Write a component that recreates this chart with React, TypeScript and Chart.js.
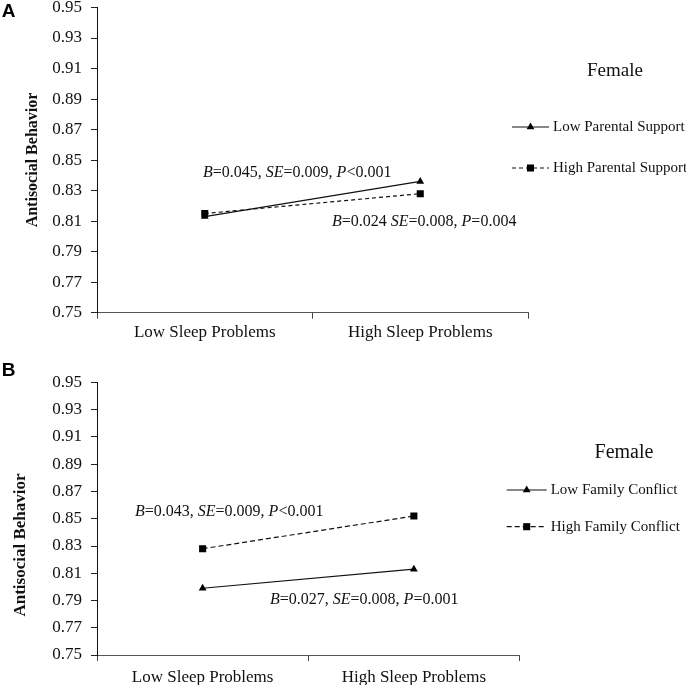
import React, { useEffect, useRef } from 'react';
import { Chart, registerables } from 'chart.js';

Chart.register(...registerables);

// ---------- data ----------
const categories = ['Low Sleep Problems', 'High Sleep Problems'];
const yTickValues = [0.75, 0.77, 0.79, 0.81, 0.83, 0.85, 0.87, 0.89, 0.91, 0.93, 0.95];

const lowParentalSupport = [0.813, 0.836];
const highParentalSupport = [0.815, 0.828];
const lowFamilyConflict = [0.799, 0.813];
const highFamilyConflict = [0.828, 0.852];

const seriesLabelsA = ['Low Parental Support', 'High Parental Support'];
const seriesLabelsB = ['Low Family Conflict', 'High Family Conflict'];

const annotationTextsA = ['B=0.045, SE=0.009, P<0.001', 'B=0.024 SE=0.008, P=0.004'];
const annotationTextsB = ['B=0.043, SE=0.009, P<0.001', 'B=0.027, SE=0.008, P=0.001'];

const legendTitle = 'Female';
const yAxisTitle = 'Antisocial Behavior';
const panelLetters = ['A', 'B'];

const SERIF = '"Liberation Serif", "Times New Roman", serif';
const SANS = '"Liberation Sans", Arial, sans-serif';

// ---------- helpers ----------
function drawRich(ctx: CanvasRenderingContext2D, text: string, x: number, y: number, size: number) {
  const parts = text.split(/([A-Z]+)/).filter((s) => s.length > 0);
  let cx = x;
  ctx.textAlign = 'left';
  ctx.textBaseline = 'middle';
  ctx.fillStyle = '#111';
  for (const part of parts) {
    const italic = /^[A-Z]+$/.test(part);
    ctx.font = `${italic ? 'italic ' : ''}${size}px ${SERIF}`;
    ctx.fillText(part, cx, y);
    cx += ctx.measureText(part).width;
  }
}

function drawMarker(ctx: CanvasRenderingContext2D, style: string, x: number, y: number, r: number) {
  ctx.beginPath();
  if (style === 'triangle') {
    let rad = 0;
    ctx.moveTo(x + Math.sin(rad) * r, y - Math.cos(rad) * r);
    rad += (2 * Math.PI) / 3;
    ctx.lineTo(x + Math.sin(rad) * r, y - Math.cos(rad) * r);
    rad += (2 * Math.PI) / 3;
    ctx.lineTo(x + Math.sin(rad) * r, y - Math.cos(rad) * r);
    ctx.closePath();
  } else {
    const s = Math.SQRT1_2 * r;
    ctx.rect(x - s, y - s, 2 * s, 2 * s);
  }
  ctx.fill();
}

type Panel = {
  letter: string;
  series: number[][];
  labels: string[];
  annotations: { text: string; x: number; y: number }[];
  canvasTop: number;
  canvasHeight: number;
  pad: { top: number; right: number; bottom: number };
  xLabelPad: number;
  dash: number[];
  letterPos: [number, number];
  yTitlePos: [number, number];
  yTitleSize: number;
  annSize: number;
  legend: {
    title: [number, number];
    titleSize: number;
    ys: number[];
    lineX: [number, number];
    markerX: number;
    textX: number;
    textSize: number;
  };
};

const panels: Panel[] = [
  {
    letter: panelLetters[0],
    series: [lowParentalSupport, highParentalSupport],
    labels: seriesLabelsA,
    annotations: [
      { text: annotationTextsA[0], x: -0.008, y: 0.8415 },
      { text: annotationTextsA[1], x: 0.5905, y: 0.8094 },
    ],
    canvasTop: -20,
    canvasHeight: 365,
    pad: { top: 27.5, right: 158, bottom: 2.3 },
    xLabelPad: 4,
    dash: [4, 3],
    letterPos: [8.5, 31.5],
    yTitlePos: [33, 180],
    yTitleSize: 16,
    annSize: 16,
    legend: {
      title: [615, 91],
      titleSize: 19,
      ys: [147, 188],
      lineX: [512, 549],
      markerX: 530.5,
      textX: 553,
      textSize: 15,
    },
  },
  {
    letter: panelLetters[1],
    series: [lowFamilyConflict, highFamilyConflict],
    labels: seriesLabelsB,
    annotations: [
      { text: annotationTextsB[0], x: -0.32, y: 0.8553 },
      { text: annotationTextsB[1], x: 0.319, y: 0.7904 },
    ],
    canvasTop: 345,
    canvasHeight: 342,
    pad: { top: 37.5, right: 166.5, bottom: 2 },
    xLabelPad: 6,
    dash: [5, 3],
    letterPos: [8.5, 25.5],
    yTitlePos: [21, 200],
    yTitleSize: 17,
    annSize: 16,
    legend: {
      title: [624, 108],
      titleSize: 20,
      ys: [145, 181.7],
      lineX: [506.7, 546.7],
      markerX: 526.7,
      textX: 550.7,
      textSize: 15,
    },
  },
];

const pointStyles = ['triangle', 'rect'];
const pointRadii = [4.5, 5];

function buildConfig(p: Panel): any {
  const overlay = {
    id: 'overlay' + p.letter,
    afterDraw(chart: any) {
      const ctx: CanvasRenderingContext2D = chart.ctx;
      const xs = chart.scales.x;
      const ys = chart.scales.y;
      ctx.save();
      // panel letter
      ctx.fillStyle = '#000';
      ctx.font = `bold 19px ${SANS}`;
      ctx.textAlign = 'center';
      ctx.textBaseline = 'middle';
      ctx.fillText(p.letter, p.letterPos[0], p.letterPos[1]);
      // y-axis title
      ctx.save();
      ctx.translate(p.yTitlePos[0], p.yTitlePos[1]);
      ctx.rotate(-Math.PI / 2);
      ctx.font = `bold ${p.yTitleSize}px ${SERIF}`;
      ctx.fillStyle = '#111';
      ctx.fillText(yAxisTitle, 0, 0);
      ctx.restore();
      // annotations
      p.annotations.forEach((a) => {
        drawRich(ctx, a.text, xs.getPixelForValue(a.x), ys.getPixelForValue(a.y), p.annSize);
      });
      // legend title
      ctx.fillStyle = '#111';
      ctx.font = `${p.legend.titleSize}px ${SERIF}`;
      ctx.textAlign = 'center';
      ctx.textBaseline = 'middle';
      ctx.fillText(legendTitle, p.legend.title[0], p.legend.title[1]);
      // legend items
      chart.data.datasets.forEach((ds: any, i: number) => {
        const y = p.legend.ys[i];
        ctx.strokeStyle = ds.borderColor;
        ctx.lineWidth = ds.borderWidth;
        ctx.setLineDash(ds.borderDash || []);
        ctx.beginPath();
        ctx.moveTo(p.legend.lineX[0], y);
        ctx.lineTo(p.legend.lineX[1], y);
        ctx.stroke();
        ctx.setLineDash([]);
        ctx.fillStyle = ds.pointBackgroundColor;
        drawMarker(ctx, ds.pointStyle, p.legend.markerX, y, ds.pointRadius);
        ctx.fillStyle = '#111';
        ctx.font = `${p.legend.textSize}px ${SERIF}`;
        ctx.textAlign = 'left';
        ctx.textBaseline = 'middle';
        ctx.fillText(ds.label, p.legend.textX, y);
      });
      ctx.restore();
    },
  };

  return {
    type: 'line',
    data: {
      labels: categories,
      datasets: p.series.map((vals, i) => ({
        label: p.labels[i],
        data: vals,
        borderColor: '#111',
        borderWidth: 1.2,
        borderDash: i === 1 ? p.dash : [],
        pointStyle: pointStyles[i],
        pointRadius: pointRadii[i],
        pointBackgroundColor: '#000',
        pointBorderColor: '#000',
        pointBorderWidth: 0,
        tension: 0,
        fill: false,
      })),
    },
    options: {
      responsive: false,
      animation: false,
      devicePixelRatio: 1,
      layout: { padding: { left: 0, top: p.pad.top, right: p.pad.right, bottom: p.pad.bottom } },
      plugins: { legend: { display: false }, tooltip: { enabled: false }, title: { display: false } },
      scales: {
        x: {
          type: 'category',
          offset: true,
          afterFit: (s: any) => {
            s.height = 30;
          },
          grid: { offset: true, drawOnChartArea: false, drawTicks: true, tickLength: 6, color: '#444', lineWidth: 1 },
          border: { color: '#555', width: 1 },
          ticks: {
            font: { family: SERIF, size: 17 },
            color: '#111',
            padding: p.xLabelPad,
            maxRotation: 0,
            autoSkip: false,
          },
        },
        y: {
          min: 0.75,
          max: 0.95,
          afterBuildTicks: (s: any) => {
            s.ticks = yTickValues.map((v) => ({ value: v }));
          },
          afterFit: (s: any) => {
            s.width = 97;
          },
          grid: { drawOnChartArea: false, drawTicks: true, tickLength: 6, color: '#222', lineWidth: 1 },
          border: { color: '#111', width: 1 },
          ticks: {
            font: { family: SERIF, size: 17 },
            color: '#111',
            padding: 9,
            callback: (v: any) => Number(v).toFixed(2),
          },
        },
      },
    },
    plugins: [overlay],
  };
}

function PanelChart({ p }: { p: Panel }) {
  const ref = useRef<HTMLCanvasElement | null>(null);
  useEffect(() => {
    if (!ref.current) return;
    const chart = new Chart(ref.current, buildConfig(p));
    return () => chart.destroy();
  }, [p]);
  return (
    <canvas
      ref={ref}
      width={686}
      height={p.canvasHeight}
      style={{ position: 'absolute', left: 0, top: p.canvasTop, width: 686, height: p.canvasHeight }}
    />
  );
}

export default function App() {
  return (
    <div
      style={{
        position: 'absolute',
        left: 0,
        top: 0,
        width: 686,
        height: 687,
        overflow: 'hidden',
        background: '#fff',
      }}
    >
      {panels.map((p) => (
        <PanelChart key={p.letter} p={p} />
      ))}
    </div>
  );
}
